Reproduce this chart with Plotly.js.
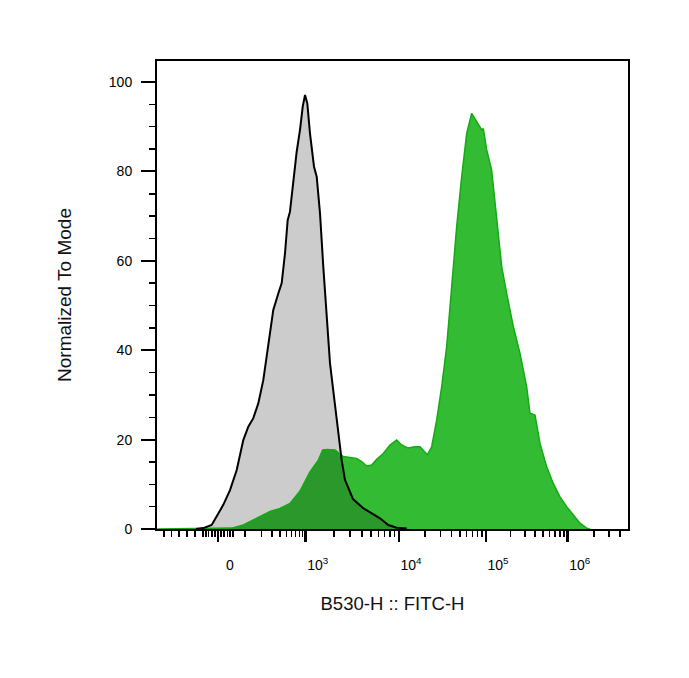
<!DOCTYPE html>
<html>
<head>
<meta charset="utf-8">
<script src="https://cdn.plot.ly/plotly-3.0.1.min.js"></script>
<style>html,body{margin:0;padding:0;background:#fff;}#chart{width:689px;height:678px;}</style>
</head>
<body>
<div id="chart"></div>
<script>
// x values are display channels (0-1024) of the biexponential FITC-H axis
const controlX = [84.8, 100.7, 118.9, 129.8, 144.1, 158.7, 173.3, 187.6, 198.5, 209.4, 220.2, 231.1, 242.0, 252.8, 263.7, 271.1, 278.3, 284.1, 289.1, 296.3, 303.7, 310.9, 316.8, 321.8, 326.8, 332.6, 341.3, 347.2, 354.4, 361.5, 368.9, 376.1, 384.8, 394.1, 401.5, 408.7, 426.1, 447.8, 467.5, 484.8, 502.9, 521.1, 542.9];
const controlY = [0, 0.2, 0.9, 2.8, 5.4, 8.7, 13.2, 19.9, 22.9, 24.8, 28.1, 33.3, 40.8, 49.0, 52.7, 55.0, 61.7, 69.1, 71.0, 78.1, 84.4, 89.3, 94.5, 97.1, 95.2, 88.5, 81.1, 78.8, 70.6, 58.7, 48.3, 37.1, 29.6, 22.1, 15.4, 11.0, 6.7, 4.7, 3.4, 2.4, 0.9, 0.3, 0.1];

const stainedX = [0, 162.4, 187.6, 216.7, 245.7, 267.4, 289.1, 310.9, 332.6, 350.7, 360.2, 369.6, 387.0, 405.0, 434.1, 445.0, 455.9, 466.8, 477.6, 492.0, 506.5, 521.1, 532.0, 546.3, 560.9, 571.8, 587.6, 597.2, 608.1, 618.9, 629.8, 640.7, 651.5, 662.4, 673.3, 684.2, 695.0, 705.9, 709.4, 716.8, 727.6, 738.5, 749.4, 760.2, 774.6, 789.2, 803.7, 810.9, 821.8, 832.6, 847.2, 861.6, 876.1, 890.7, 905.0, 919.6, 934.2, 941.3];
const stainedY = [0, 0.2, 0.9, 2.4, 3.9, 4.6, 5.7, 8.5, 12.8, 15.4, 17.7, 17.8, 17.7, 16.2, 15.8, 15.1, 14.1, 14.3, 15.6, 16.9, 18.8, 19.9, 18.8, 18.1, 18.4, 18.4, 16.6, 18.4, 24.4, 31.8, 40.8, 54.2, 67.6, 78.8, 88.5, 93.0, 91.1, 89.3, 89.6, 84.8, 80.3, 69.9, 58.7, 52.7, 45.3, 39.3, 31.8, 25.9, 25.5, 19.2, 13.9, 10.2, 7.2, 5.0, 3.1, 1.3, 0.2, 0];

// axis tick values (raw intensities) and labels
const majorValues = [0, 1e3, 1e4, 1e5, 1e6];
const majorLabels = ['0', '10<sup>3</sup>', '10<sup>4</sup>', '10<sup>5</sup>', '10<sup>6</sup>'];
const minorValues = [-50, -40, -30, -20, -10, 10, 20, 30, 40, 50,
  100, 200, 300, 400, 500, 600, 700, 800, 900,
  2e3, 3e3, 4e3, 5e3, 6e3, 7e3, 8e3, 9e3,
  2e4, 3e4, 4e4, 5e4, 6e4, 7e4, 8e4, 9e4,
  2e5, 3e5, 4e5, 5e5, 6e5, 7e5, 8e5, 9e5,
  2e6, 3e6, 4e6];
const negativeMinorChannels = [15.2, 31.9, 48.3, 65.6, 82.6];
const yMajor = [0, 20, 40, 60, 80, 100];

// biexponential display transform: value -> channel
const decadeChannel = {3: 323.3, 4: 526.1, 5: 715.2, 6: 892.9, 7: 1082};
function toChannel(v) {
  const c0 = 132.6, c3 = decadeChannel[3];
  if (v < 1000) return c0 + (c3 - c0) * Math.asinh(v / 90) / Math.asinh(1000 / 90);
  const lg = Math.log10(v);
  const d = Math.min(Math.floor(lg), 6);
  return decadeChannel[d] + (lg - d) * (decadeChannel[d + 1] - decadeChannel[d]);
}

function interp(xs, ys, x) {
  if (x <= xs[0]) return x < xs[0] ? 0 : ys[0];
  if (x >= xs[xs.length - 1]) return x > xs[xs.length - 1] ? 0 : ys[ys.length - 1];
  for (let i = 1; i < xs.length; i++) {
    if (x <= xs[i]) {
      const t = (x - xs[i - 1]) / (xs[i] - xs[i - 1]);
      return ys[i - 1] + t * (ys[i] - ys[i - 1]);
    }
  }
  return 0;
}
const unionX = Array.from(new Set(controlX.concat(stainedX)))
  .filter(x => x >= controlX[0] && x <= controlX[controlX.length - 1]).sort((a, b) => a - b);
const overlapY = unionX.map(x => Math.min(interp(controlX, controlY, x), interp(stainedX, stainedY, x)));

const font = 'Liberation Sans, Arial, Helvetica, sans-serif';
const traces = [
  {x: controlX, y: controlY, type: 'scatter', mode: 'lines', fill: 'tozeroy',
   fillcolor: 'rgb(204,204,204)', line: {width: 0, color: 'rgba(0,0,0,0)'}},
  {x: stainedX, y: stainedY, type: 'scatter', mode: 'lines', fill: 'tozeroy',
   fillcolor: 'rgb(51,187,51)', line: {width: 0, color: 'rgba(0,0,0,0)'}},
  {x: unionX, y: overlapY, type: 'scatter', mode: 'lines', fill: 'tozeroy',
   fillcolor: 'rgb(42,152,42)', line: {width: 0, color: 'rgba(0,0,0,0)'}},
  {x: stainedX, y: stainedY, type: 'scatter', mode: 'lines',
   line: {width: 1.5, color: 'rgb(20,170,20)'}},
  {x: controlX, y: controlY, type: 'scatter', mode: 'lines',
   line: {width: 2, color: '#000'}}
];

const layout = {
  width: 689, height: 678,
  margin: {l: 157, r: 61, t: 61, b: 149, pad: 0},
  paper_bgcolor: '#fff', plot_bgcolor: '#fff',
  showlegend: false, hovermode: false,
  font: {family: font, size: 14, color: '#000'},
  xaxis: {
    range: [0, 1024], showgrid: false, zeroline: false,
    showline: true, mirror: true, linecolor: '#000', linewidth: 2,
    tickmode: 'array', tickvals: majorValues.map(toChannel), ticktext: majorLabels,
    ticks: 'outside', ticklen: 11, tickwidth: 2.5, tickcolor: '#000',
    ticklabelshift: 12, ticklabelstandoff: 11,
    tickfont: {family: font, size: 14, color: '#000'},
    minor: {tickmode: 'array', tickvals: negativeMinorChannels.concat(minorValues.map(toChannel)),
      ticks: 'outside', ticklen: 6, tickwidth: 1.5, tickcolor: '#000', showgrid: false},
    title: {text: 'B530-H :: FITC-H', font: {family: font, size: 18.5, color: '#111'}, standoff: 25}
  },
  yaxis: {
    range: [0, 104.7], showgrid: false, zeroline: false,
    showline: true, mirror: true, linecolor: '#000', linewidth: 2,
    tickmode: 'array', tickvals: yMajor, ticktext: yMajor.map(String),
    ticks: 'outside', ticklen: 14, tickwidth: 2, tickcolor: '#000',
    ticklabelstandoff: 6,
    tickfont: {family: font, size: 14, color: '#000'},
    minor: {dtick: 5, ticks: 'outside', ticklen: 6, tickwidth: 1.5, tickcolor: '#000', showgrid: false},
    title: {text: 'Normalized To Mode', font: {family: font, size: 19, color: '#111'}, standoff: 32}
  }
};

Plotly.newPlot('chart', traces, layout, {staticPlot: true, displayModeBar: false});
</script>
</body>
</html>
